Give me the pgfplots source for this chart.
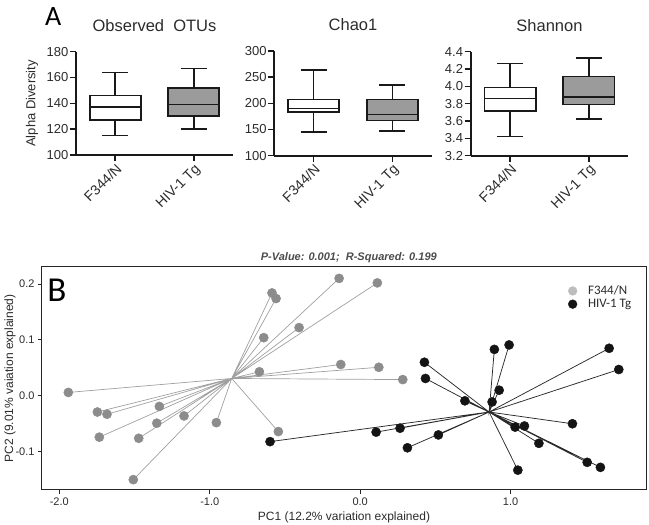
\documentclass[border=0pt]{standalone}
\usepackage{fontspec}
\setmainfont{Liberation Sans}
\newfontfamily\calib{Carlito}
\usepackage{pgfplots}
\pgfplotsset{compat=1.18}
\usepgfplotslibrary{statistics}

\definecolor{boxgray}{HTML}{9B9B9B}
\definecolor{ptgray}{HTML}{8C8C8C}
\definecolor{lightpt}{HTML}{BDBDBD}
\definecolor{txt}{HTML}{2B2B2B}
\definecolor{linegray}{HTML}{A0A0A0}
\definecolor{linedark}{HTML}{2A2A2A}

\pgfplotsset{
  alphabox/.style={
    scale only axis, anchor=south west,
    xmin=0.5, xmax=2.5,
    axis lines*=left,
    axis line style={line width=1.8pt, black!90},
    xtick={1,2}, xticklabels={F344/N, HIV-1 Tg},
    tick align=outside, major tick length=6pt,
    tick style={line width=1.6pt, black!90},
    xticklabel style={rotate=45, anchor=north east, font=\fontsize{14}{16}\selectfont, text=txt, inner sep=1pt},
    yticklabel style={font=\fontsize{13}{15}\selectfont, text=txt, inner sep=1.5pt},
    every axis title/.style={at={(0.5,1)}, anchor=base, yshift=20pt, font=\fontsize{16.5}{19}\selectfont, text=txt},
    boxplot/draw direction=y,
    clip=false,
  },
  boxF/.style={draw=black!90, line width=1.6pt, fill=white, solid},
  boxH/.style={draw=black!90, line width=1.6pt, fill=boxgray, solid},
}

\begin{document}
\begin{tikzpicture}[x=1pt,y=1pt]
\useasboundingbox (0,0) rectangle (649,525);

% ---------------- Panel A: alpha diversity ----------------
\node[font=\calib\fontsize{28}{30}\selectfont] at (53.3,508.8) {A};

\begin{axis}[alphabox, at={(76pt,370pt)}, width=157pt, height=103.3pt,
  ymin=100, ymax=180, ytick={100,120,140,160,180},
  yticklabels={100,120,140,160,180},
  title={Observed\ \ OTUs},
  ylabel={Alpha Diversity},
  ylabel style={at={(axis description cs:-0.28,0.5)}, anchor=center, font=\fontsize{13}{15}\selectfont, text=txt}]
\addplot[boxF, boxplot prepared={draw position=1, lower whisker=115, lower quartile=127, median=137, upper quartile=146, upper whisker=164, box extend=0.65, whisker extend=0.33}] coordinates {};
\addplot[boxH, boxplot prepared={draw position=2, lower whisker=120, lower quartile=130, median=139, upper quartile=152, upper whisker=167, box extend=0.65, whisker extend=0.33}] coordinates {};
\end{axis}

\begin{axis}[alphabox, at={(274.3pt,369.3pt)}, width=157.4pt, height=104.7pt,
  ymin=100, ymax=300, ytick={100,150,200,250,300},
  yticklabels={100,150,200,250,300},
  title={Chao1}]
\addplot[boxF, boxplot prepared={draw position=1, lower whisker=145, lower quartile=183.5, median=190.5, upper quartile=207.5, upper whisker=264, box extend=0.65, whisker extend=0.33}] coordinates {};
\addplot[boxH, boxplot prepared={draw position=2, lower whisker=147, lower quartile=167.5, median=179, upper quartile=207.5, upper whisker=235, box extend=0.65, whisker extend=0.33}] coordinates {};
\end{axis}

\begin{axis}[alphabox, at={(470.7pt,369.3pt)}, width=157.6pt, height=104pt,
  ymin=3.2, ymax=4.4, ytick={3.2,3.4,3.6,3.8,4.0,4.2,4.4},
  yticklabels={3.2,3.4,3.6,3.8,4.0,4.2,4.4},
  title={Shannon}]
\addplot[boxF, boxplot prepared={draw position=1, lower whisker=3.42, lower quartile=3.716, median=3.858, upper quartile=3.985, upper whisker=4.266, box extend=0.65, whisker extend=0.33}] coordinates {};
\addplot[boxH, boxplot prepared={draw position=2, lower whisker=3.623, lower quartile=3.793, median=3.874, upper quartile=4.116, upper whisker=4.324, box extend=0.65, whisker extend=0.33}] coordinates {};
\end{axis}

% ---------------- Panel B: PCoA ----------------
\begin{axis}[at={(42pt,35pt)}, anchor=south west, scale only axis,
  width=604pt, height=223pt,
  xmin=-2.115, xmax=1.9, ymin=-0.1685, ymax=0.2304,
  axis line style={line width=1pt, black!85},
  xtick={-2,-1,0,1}, xticklabels={-2.0,-1.0,0.0,1.0},
  ytick={-0.1,0,0.1,0.2}, yticklabels={-0.1,0.0,0.1,0.2},
  tick align=outside, major tick length=4pt,
  xtick pos=bottom, ytick pos=left,
  tick style={line width=0.8pt, black!85},
  ticklabel style={font=\fontsize{11}{13}\selectfont, text=txt},
  xlabel={PC1 (12.2\% variation explained)},
  ylabel={PC2 (9.01\% vaiation explained)},
  xlabel style={at={(axis description cs:0.5,-0.121)}, anchor=center, font=\fontsize{12}{14}\selectfont, text=txt},
  ylabel style={at={(axis description cs:-0.053,0.5)}, anchor=center, font=\fontsize{12}{14}\selectfont, text=txt},
  title={P-Value: 0.001;\ \ R-Squared: 0.199},
  every axis title/.style={at={(axis description cs:0.508,1.040)}, anchor=center, font=\bfseries\itshape\fontsize{11}{13}\selectfont, text=black!70},
  legend style={draw=none, fill=none, at={(0.866,0.935)}, anchor=north west,
    font=\calib\fontsize{13}{15}\selectfont, text=txt, row sep=-1pt, column sep=9pt},
  legend cell align=left,
  clip=false]

\addlegendimage{only marks, mark=*, mark size=4.4pt, color=lightpt}
\addlegendentry{F344/N}
\addlegendimage{only marks, mark=*, mark size=4.4pt, color=black!92}
\addlegendentry{HIV-1 Tg}

% spokes from each F344/N sample to the group centroid (-0.854, 0.031)
\addplot[linegray, line width=0.7pt, forget plot] coordinates {
(-0.854,0.031) (-1.940,0.006)
(-0.854,0.031) (-1.747,-0.029)
(-0.854,0.031) (-1.683,-0.033)
(-0.854,0.031) (-1.335,-0.019)
(-0.854,0.031) (-1.352,-0.049)
(-0.854,0.031) (-1.171,-0.036)
(-0.854,0.031) (-0.956,-0.048)
(-0.854,0.031) (-1.734,-0.074)
(-0.854,0.031) (-1.472,-0.076)
(-0.854,0.031) (-1.508,-0.150)
(-0.854,0.031) (-0.544,-0.064)
(-0.854,0.031) (-0.586,0.184)
(-0.854,0.031) (-0.559,0.174)
(-0.854,0.031) (-0.641,0.104)
(-0.854,0.031) (-0.406,0.122)
(-0.854,0.031) (-0.670,0.043)
(-0.854,0.031) (-0.140,0.210)
(-0.854,0.031) (0.114,0.202)
(-0.854,0.031) (-0.129,0.056)
(-0.854,0.031) (0.124,0.051)
(-0.854,0.031) (0.283,0.029)
(-0.854,0.031)
};

% spokes from each HIV-1 Tg sample to the group centroid (0.857, -0.029)
\addplot[linedark, line width=0.75pt, forget plot] coordinates {
(0.857,-0.029) (0.892,0.083)
(0.857,-0.029) (0.990,0.091)
(0.857,-0.029) (1.655,0.085)
(0.857,-0.029) (1.719,0.047)
(0.857,-0.029) (0.427,0.060)
(0.857,-0.029) (0.434,0.031)
(0.857,-0.029) (0.924,0.010)
(0.857,-0.029) (0.696,-0.009)
(0.857,-0.029) (0.877,-0.011)
(0.857,-0.029) (0.106,-0.065)
(0.857,-0.029) (0.265,-0.058)
(0.857,-0.029) (0.520,-0.070)
(0.857,-0.029) (0.314,-0.093)
(0.857,-0.029) (1.030,-0.056)
(0.857,-0.029) (1.092,-0.054)
(0.857,-0.029) (1.411,-0.050)
(0.857,-0.029) (1.188,-0.085)
(0.857,-0.029) (1.509,-0.119)
(0.857,-0.029) (1.597,-0.128)
(0.857,-0.029) (1.048,-0.133)
(0.857,-0.029) (-0.599,-0.082)
(0.857,-0.029)
};

% F344/N samples
\addplot[only marks, mark=*, mark size=4.6pt, color=ptgray, forget plot] coordinates {
(-1.940,0.006) (-1.747,-0.029) (-1.683,-0.033) (-1.335,-0.019) (-1.352,-0.049)
(-1.171,-0.036) (-0.956,-0.048) (-1.734,-0.074) (-1.472,-0.076) (-1.508,-0.150)
(-0.544,-0.064) (-0.586,0.184) (-0.559,0.174) (-0.641,0.104) (-0.406,0.122)
(-0.670,0.043) (-0.140,0.210) (0.114,0.202) (-0.129,0.056) (0.124,0.051)
(0.283,0.029)
};

% HIV-1 Tg samples
\addplot[only marks, mark=*, mark size=4.6pt, color=black!92, forget plot] coordinates {
(0.892,0.083) (0.990,0.091) (1.655,0.085) (1.719,0.047) (0.427,0.060)
(0.434,0.031) (0.924,0.010) (0.696,-0.009) (0.877,-0.011) (0.106,-0.065)
(0.265,-0.058) (0.520,-0.070) (0.314,-0.093) (1.030,-0.056) (1.092,-0.054)
(1.411,-0.050) (1.188,-0.085) (1.509,-0.119) (1.597,-0.128) (1.048,-0.133)
(-0.599,-0.082)
};
\end{axis}

\node[font=\calib\fontsize{35}{37}\selectfont] at (57,234.5) {B};
\end{tikzpicture}
\end{document}
